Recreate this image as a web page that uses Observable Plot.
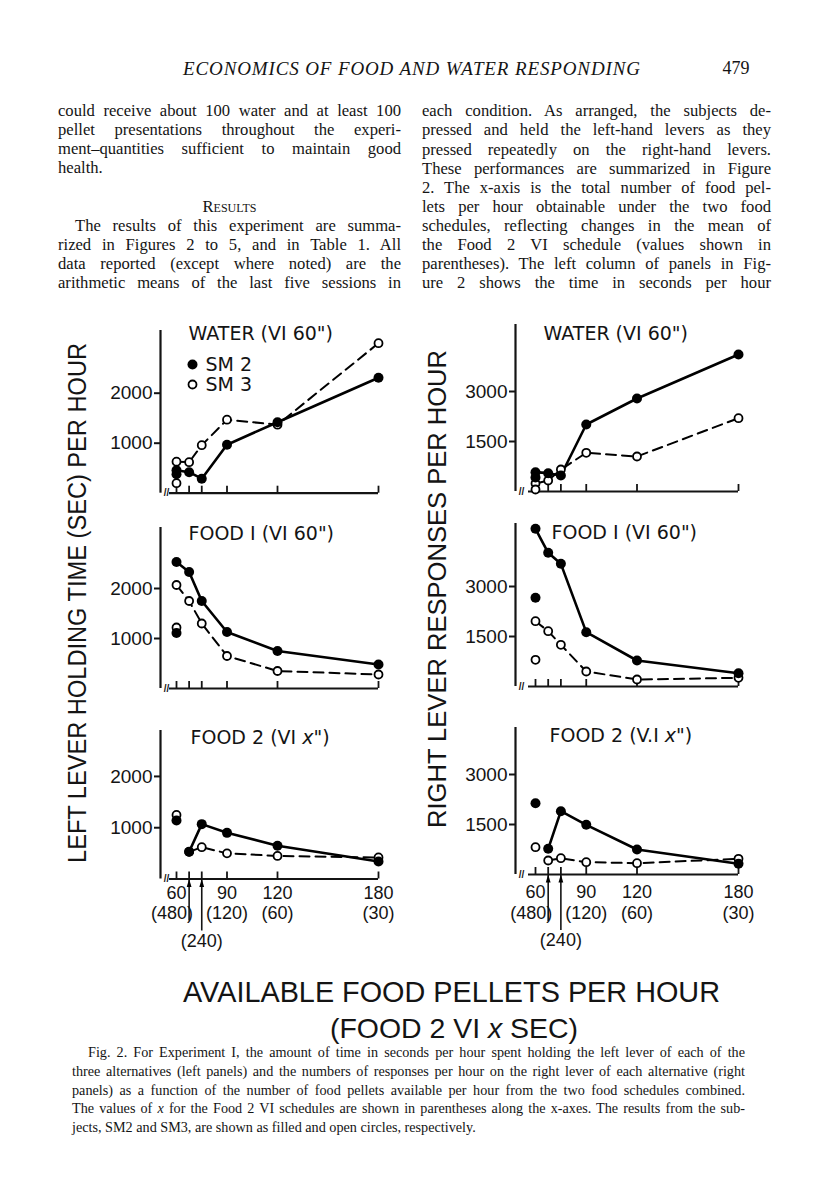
<!DOCTYPE html>
<html>
<head>
<meta charset="utf-8">
<script src="https://cdn.jsdelivr.net/npm/d3@7"></script>
<script src="https://cdn.jsdelivr.net/npm/@observablehq/plot@0.6"></script>
<style>
html,body{margin:0;padding:0;background:#fff;}
#page{position:relative;width:816px;height:1200px;overflow:hidden;background:#fff;color:#141414;}
.ln{position:absolute;font-family:"Liberation Serif","Times New Roman",serif;white-space:nowrap;}
.ln.center{text-align:center;font-variant:small-caps;}
.panel{position:absolute;}
.panel svg{overflow:visible;}
</style>
</head>
<body>
<div id="page"></div>
<script>
// ---------- data ----------
const pellets = [60, 67.5, 75, 90, 120, 180];
const pelletTickValues = [60, 90, 120, 180];
const pelletTickLabels = ["60", "90", "120", "180"];
const food2VIPellets = [67.5, 75, 90, 120, 180];
const food2VILabels = ["(480)", "(240)", "(120)", "(60)", "(30)"];
const arrowPellets = [67.5, 75];
const seriesNames = ["SM 2", "SM 3"];
const panelTitles = ['WATER (VI 60")', 'FOOD I (VI 60")', 'FOOD 2 (VI x")', 'FOOD 2 (V.I x")'];
const leftTicks = [1000, 2000];
const rightTicks = [1500, 3000];

// left column: left-lever holding time (sec per hour)
const waterHoldSM2 = [460, 420, 290, 970, 1420, 2310];
const waterHoldSM3 = [630, 620, 960, 1470, 1370, 3000];
const waterHoldSM2Alone = [380];
const waterHoldSM3Alone = [200];
const food1HoldSM2 = [2530, 2330, 1750, 1130, 750, 480];
const food1HoldSM3 = [2070, 1750, 1300, 650, 350, 280];
const food1HoldSM2Alone = [1110];
const food1HoldSM3Alone = [1220];
const food2HoldSM2 = [null, 530, 1070, 900, 650, 340];
const food2HoldSM3 = [null, 530, 620, 500, 450, 420];
const food2HoldSM2Alone = [1140];
const food2HoldSM3Alone = [1250];

// right column: right-lever responses per hour
const waterRespSM2 = [580, 550, 480, 2010, 2790, 4110];
const waterRespSM3 = [240, 330, 660, 1160, 1050, 2200];
const waterRespSM2Alone = [420];
const waterRespSM3Alone = [60];
const food1RespSM2 = [4730, 4010, 3680, 1630, 780, 400];
const food1RespSM3 = [1960, 1660, 1250, 450, 210, 260];
const food1RespSM2Alone = [2660];
const food1RespSM3Alone = [800];
const food2RespSM2 = [null, 770, 1900, 1490, 750, 320];
const food2RespSM3 = [null, 420, 490, 370, 340, 470];
const food2RespSM2Alone = [2140];
const food2RespSM3Alone = [820];

// page text
const headerText = "ECONOMICS OF FOOD AND WATER RESPONDING";
const pageNumber = "479";
const bodyLeft = [
  "could receive about 100 water and at least 100",
  "pellet presentations throughout the experi-",
  "ment–quantities sufficient to maintain good",
  "health.",
  "The results of this experiment are summa-",
  "rized in Figures 2 to 5, and in Table 1. All",
  "data reported (except where noted) are the",
  "arithmetic means of the last five sessions in"
];
const resultsHeading = "Results";
const bodyRight = [
  "each condition. As arranged, the subjects de-",
  "pressed and held the left-hand levers as they",
  "pressed repeatedly on the right-hand levers.",
  "These performances are summarized in Figure",
  "2. The x-axis is the total number of food pel-",
  "lets per hour obtainable under the two food",
  "schedules, reflecting changes in the mean of",
  "the Food 2 VI schedule (values shown in",
  "parentheses). The left column of panels in Fig-",
  "ure 2 shows the time in seconds per hour"
];
const yTitleLeft = "LEFT LEVER HOLDING TIME (SEC) PER HOUR";
const yTitleRight = "RIGHT LEVER RESPONSES PER HOUR";
const xTitle1 = "AVAILABLE FOOD PELLETS PER HOUR";
const xTitle2 = ["(FOOD 2 VI ", "x", " SEC)"];
const caption = [
  "Fig. 2. For Experiment I, the amount of time in seconds per hour spent holding the left lever of each of the",
  "three alternatives (left panels) and the numbers of responses per hour on the right lever of each alternative (right",
  "panels) as a function of the number of food pellets available per hour from the two food schedules combined.",
  "The values of <i>x</i> for the Food 2 VI schedules are shown in parentheses along the x-axes. The results from the sub-",
  "jects, SM2 and SM3, are shown as filled and open circles, respectively."
];

// ---------- page text ----------
const page = document.getElementById("page");
function addLine(html, x, y, w, fs, justify) {
  const d = document.createElement("div");
  d.className = "ln";
  d.style.cssText = `left:${x}px;top:${y - fs * 0.64}px;font-size:${fs}px;line-height:${fs * 1.2}px;`;
  d.innerHTML = html;
  page.appendChild(d);
  if (justify) {
    const nat = d.getBoundingClientRect().width;
    const txt = d.textContent;
    const spaces = (txt.match(/ /g) || []).length;
    if (nat > w) d.style.letterSpacing = ((w - nat) / txt.length) + "px";
    else if (spaces) d.style.wordSpacing = ((w - nat) / spaces) + "px";
  }
}
const BODY_FS = 16.6;
bodyLeft.forEach((t, i) => {
  const y = i < 4 ? 112 + 19 * i : 227 + 19 * (i - 4);
  const indent = i === 4 ? 17 : 0;
  addLine(t, 58 + indent, y, 343 - indent, BODY_FS, i !== 3);
});
(function () {
  const d = document.createElement("div");
  d.className = "ln center";
  d.style.cssText = `left:58px;width:343px;top:${208 - BODY_FS * 0.64}px;font-size:${BODY_FS}px;line-height:${BODY_FS * 1.2}px;`;
  d.textContent = resultsHeading;
  page.appendChild(d);
})();
bodyRight.forEach((t, i) => addLine(t, 422, 112 + 19.1 * i, 349, BODY_FS, true));
caption.forEach((t, i) => {
  const indent = i === 0 ? 16 : 0;
  addLine(t, 72 + indent, 1053 + 18.8 * i, 673 - indent, 14.2, i !== caption.length - 1);
});

// ---------- overlay lettering ----------
const overlay = document.createElement("div");
overlay.innerHTML = `<svg width="816" height="1200" style="position:absolute;left:0;top:0" font-family="Liberation Sans, Arial, sans-serif" fill="#141414">
<text x="411.5" y="68" text-anchor="middle" dominant-baseline="central" font-family="Liberation Serif, serif" font-style="italic" font-size="19" textLength="457" lengthAdjust="spacing">${headerText}</text>
<text x="736" y="68" text-anchor="middle" dominant-baseline="central" font-family="Liberation Serif, serif" font-size="18">${pageNumber}</text>
<text transform="translate(77,603) rotate(-90)" text-anchor="middle" dominant-baseline="central" font-size="25" textLength="520" lengthAdjust="spacingAndGlyphs">${yTitleLeft}</text>
<text transform="translate(437,589) rotate(-90)" text-anchor="middle" dominant-baseline="central" font-size="25" textLength="478" lengthAdjust="spacingAndGlyphs">${yTitleRight}</text>
<text x="451.5" y="992" text-anchor="middle" dominant-baseline="central" font-size="29" textLength="537" lengthAdjust="spacingAndGlyphs">${xTitle1}</text>
<text x="454" y="1028" text-anchor="middle" dominant-baseline="central" font-size="28" textLength="248" lengthAdjust="spacingAndGlyphs">${xTitle2[0]}<tspan font-style="italic">${xTitle2[1]}</tspan>${xTitle2[2]}</text>
</svg>`;
page.appendChild(overlay.firstElementChild);

// ---------- panels ----------
const LEFT = {left: 100, width: 290, axisX: 160, xRange: [76, 278]};
const RIGHT = {left: 455, width: 300, axisX: 515, xRange: [80, 283]};
const panels = [
  {col: LEFT, axisTop: 330, zero: 492.7, upp: 20, ticks: leftTicks, title: panelTitles[0], tx: 188, ty: 333,
   sm2: waterHoldSM2, sm3: waterHoldSM3, sm2a: waterHoldSM2Alone, sm3a: waterHoldSM3Alone, legend: true},
  {col: RIGHT, axisTop: 324, zero: 491, upp: 30, ticks: rightTicks, title: panelTitles[0], tx: 543, ty: 333,
   sm2: waterRespSM2, sm3: waterRespSM3, sm2a: waterRespSM2Alone, sm3a: waterRespSM3Alone},
  {col: LEFT, axisTop: 527, zero: 688, upp: 20, ticks: leftTicks, title: panelTitles[1], tx: 188, ty: 533,
   sm2: food1HoldSM2, sm3: food1HoldSM3, sm2a: food1HoldSM2Alone, sm3a: food1HoldSM3Alone},
  {col: RIGHT, axisTop: 523, zero: 686, upp: 30, ticks: rightTicks, title: panelTitles[1], tx: 551, ty: 532,
   sm2: food1RespSM2, sm3: food1RespSM3, sm2a: food1RespSM2Alone, sm3a: food1RespSM3Alone},
  {col: LEFT, axisTop: 730, zero: 878.5, upp: 19.5, ticks: leftTicks, title: panelTitles[2], tx: 190, ty: 737,
   sm2: food2HoldSM2, sm3: food2HoldSM3, sm2a: food2HoldSM2Alone, sm3a: food2HoldSM3Alone, food2: true, rows: [14, 34, 62]},
  {col: RIGHT, axisTop: 727, zero: 874, upp: 30, ticks: rightTicks, title: panelTitles[3], tx: 549, ty: 735,
   sm2: food2RespSM2, sm3: food2RespSM3, sm2a: food2RespSM2Alone, sm3a: food2RespSM3Alone, food2: true, rows: [18, 39, 66]}
];

const arrowHead = {
  draw(ctx) { ctx.moveTo(0, 0); ctx.lineTo(-2.4, 8); ctx.lineTo(2.4, 8); ctx.closePath(); }
};

function makePanel(c) {
  const col = c.col;
  const mT = 12;
  const plotH = c.zero - c.axisTop;
  const height = Math.ceil(plotH + mT + (c.food2 ? 82 : 24));
  const mB = height - mT - plotH;
  const yMax = plotH * c.upp;
  const ml = col.axisX - col.left;
  const x60 = col.left + col.xRange[0];
  const dxAxis = col.axisX - x60;
  const first = pellets[0], last = pellets[pellets.length - 1];
  const rows = vals => pellets.map((x, i) => ({x, y: vals[i]})).filter(d => d.y != null);
  const singles = vals => vals.map(y => ({x: first, y}));
  const top = () => yMax, zero = () => 0, atFirst = () => first;
  const LAB_FS = 18;

  const marks = [
    Plot.ruleX([first], {x: d => d, y1: 0, y2: yMax, dx: dxAxis, strokeWidth: 2.2}),
    Plot.ruleY([0], {x1: first, x2: last, insetLeft: -7, strokeWidth: 2.2}),
    Plot.ruleX(pellets, {x: d => d, y1: 0, y2: 0, insetTop: -7, strokeWidth: 1.8}),
    Plot.text([first], {x: d => d, y: zero, text: () => "//", dx: dxAxis + 6, dy: 0, fontSize: 10, fontWeight: "bold"}),
    Plot.axisY({ticks: c.ticks, tickSize: 6, tickPadding: 2, tickFormat: d => String(d), fontSize: 19, strokeWidth: 2, label: null}),
    Plot.line(rows(c.sm3), {x: "x", y: "y", stroke: "black", strokeWidth: 2, strokeDasharray: "10,6"}),
    Plot.line(rows(c.sm2), {x: "x", y: "y", stroke: "black", strokeWidth: 2.6}),
    Plot.dot(rows(c.sm3).concat(singles(c.sm3a)), {x: "x", y: "y", r: 4, fill: "white", stroke: "black", strokeWidth: 1.8}),
    Plot.dot(rows(c.sm2).concat(singles(c.sm2a)), {x: "x", y: "y", r: 5, fill: "black"}),
    Plot.text([c.title], {x: atFirst, y: top, text: d => d, dx: c.tx - x60, dy: c.ty - c.axisTop,
      textAnchor: "start", lineAnchor: "middle", fontSize: 19, fontFamily: "DejaVu Sans"})
  ];

  if (c.legend) {
    marks.push(
      Plot.dot([seriesNames[0]], {x: atFirst, y: top, dx: 192 - x60, dy: 364 - c.axisTop, r: 5, fill: "black"}),
      Plot.dot([seriesNames[1]], {x: atFirst, y: top, dx: 192 - x60, dy: 384 - c.axisTop, r: 4, fill: "white", stroke: "black", strokeWidth: 1.8}),
      Plot.text([seriesNames[0]], {x: atFirst, y: top, text: d => d, dx: 205 - x60, dy: 364 - c.axisTop, textAnchor: "start", lineAnchor: "middle", fontSize: 19, fontFamily: "DejaVu Sans"}),
      Plot.text([seriesNames[1]], {x: atFirst, y: top, text: d => d, dx: 205 - x60, dy: 384 - c.axisTop, textAnchor: "start", lineAnchor: "middle", fontSize: 19, fontFamily: "DejaVu Sans"})
    );
  }

  if (c.food2) {
    const [r1, r2, r3] = c.rows;
    marks.push(
      Plot.text(pelletTickValues, {x: d => d, y: zero, text: (d, i) => pelletTickLabels[i], dy: r1, lineAnchor: "middle", fontSize: LAB_FS}),
      Plot.text(food2VIPellets.slice(2), {x: d => d, y: zero, text: (d, i) => food2VILabels[i + 2], dy: r2, lineAnchor: "middle", fontSize: LAB_FS}),
      Plot.text(food2VIPellets.slice(0, 1), {x: d => d, y: zero, text: () => food2VILabels[0], dy: r2, dx: 4, textAnchor: "end", lineAnchor: "middle", fontSize: LAB_FS}),
      Plot.text(food2VIPellets.slice(1, 2), {x: d => d, y: zero, text: () => food2VILabels[1], dy: r3, lineAnchor: "middle", fontSize: LAB_FS}),
      Plot.ruleX(arrowPellets.slice(0, 1), {x: d => d, y1: 0, y2: 0, insetBottom: -(r2 + 8), strokeWidth: 1.6}),
      Plot.ruleX(arrowPellets.slice(1, 2), {x: d => d, y1: 0, y2: 0, insetBottom: -(r3 - 10), strokeWidth: 1.6}),
      Plot.dot(arrowPellets, {x: d => d, y: zero, symbol: arrowHead, r: 3, fill: "black", stroke: "none"})
    );
  }

  const svg = Plot.plot({
    width: col.width,
    height,
    marginLeft: ml,
    marginRight: col.width - col.xRange[1],
    marginTop: mT,
    marginBottom: mB,
    style: {fontFamily: '"Liberation Sans", Arial, sans-serif', fontSize: "19px", background: "transparent", overflow: "visible", color: "#141414"},
    x: {domain: [first, last], range: col.xRange, axis: null},
    y: {domain: [0, yMax]},
    marks
  });

  // italic x in the Food 2 titles
  if (c.title.includes(" x")) {
    const NS = "http://www.w3.org/2000/svg";
    svg.querySelectorAll("text").forEach(t => {
      if (t.textContent === c.title) {
        const k = c.title.indexOf(" x") + 1;
        t.textContent = "";
        t.appendChild(document.createTextNode(c.title.slice(0, k)));
        const ts = document.createElementNS(NS, "tspan");
        ts.setAttribute("font-style", "italic");
        ts.textContent = "x";
        t.appendChild(ts);
        t.appendChild(document.createTextNode(c.title.slice(k + 1)));
      }
    });
  }

  const holder = document.createElement("div");
  holder.className = "panel";
  holder.style.left = col.left + "px";
  holder.style.top = (c.axisTop - mT) + "px";
  holder.appendChild(svg);
  page.appendChild(holder);
}

panels.forEach(makePanel);
</script>
</body>
</html>
